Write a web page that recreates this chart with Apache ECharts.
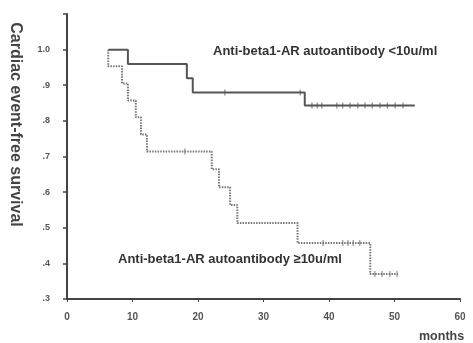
<!DOCTYPE html>
<html>
<head>
<meta charset="utf-8">
<script src="https://cdn.jsdelivr.net/npm/echarts@6/dist/echarts.min.js"></script>
<style>
  html, body { margin: 0; padding: 0; background: #fff; }
  #chart { width: 473px; height: 343px; }
</style>
</head>
<body>
<div id="chart"></div>
<script>
// Kaplan-Meier steps: [months, survival after event]
var lowGroup = [[6.3, 1.0], [9.3, 0.96], [18.3, 0.92], [19.2, 0.88], [36.3, 0.843], [53.1, 0.843]];
var lowCensor = [[24.1, 0.88], [35.6, 0.88], [37.4, 0.843], [38.2, 0.843], [38.9, 0.843], [41.2, 0.843], [42.1, 0.843],
  [43.2, 0.843], [44.4, 0.843], [45.5, 0.843], [46.6, 0.843], [47.8, 0.843], [48.9, 0.843], [50.1, 0.843], [51.3, 0.843]];

var highGroup = [[6.3, 1.0], [6.3, 0.953], [8.4, 0.905], [9.3, 0.857], [10.5, 0.81], [11.3, 0.762], [12.2, 0.714],
  [22.1, 0.664], [23.2, 0.614], [24.9, 0.564], [26.0, 0.513], [35.2, 0.457], [46.3, 0.37], [50.5, 0.37]];
var highCensor = [[18.0, 0.714], [39.1, 0.457], [42.1, 0.457], [42.9, 0.457], [43.7, 0.457], [44.7, 0.457],
  [47.0, 0.37], [48.1, 0.37], [49.3, 0.37], [50.4, 0.37]];

var xTicks = [0, 10, 20, 30, 40, 50, 60];
var yTicks = ['.3', '.4', '.5', '.6', '.7', '.8', '.9', '1.0', ''];

var myChart = echarts.init(document.getElementById('chart'));
var option = {
  animation: false,
  grid: { left: 67, right: 13, top: 14, bottom: 44, outerBoundsMode: 'none', containLabel: false },
  xAxis: {
    type: 'value', min: 0, max: 60, interval: 10,
    axisLine: { lineStyle: { color: '#444', width: 2 } },
    axisTick: { show: true, length: 3, lineStyle: { color: '#444' } },
    splitLine: { show: false },
    axisLabel: { color: '#555', fontSize: 10, fontWeight: 'bold', margin: 13, fontFamily: 'Liberation Sans',
      formatter: function (v) { return xTicks.indexOf(v) >= 0 ? String(v) : ''; } }
  },
  yAxis: {
    type: 'value', min: 0.3, max: 1.1, interval: 0.1,
    name: 'Cardiac event-free survival', nameLocation: 'middle', nameRotate: -90, nameGap: 44,
    nameTextStyle: { color: '#444', fontSize: 16, fontWeight: 'bold', fontFamily: 'Liberation Sans',
      padding: [0, 64, 0, 0] },
    axisLine: { show: true, lineStyle: { color: '#444', width: 2 } },
    axisTick: { show: true, length: 4, lineStyle: { color: '#444', width: 1.5 } },
    splitLine: { show: false },
    axisLabel: { color: '#555', fontSize: 9, fontWeight: 'bold', margin: 17, fontFamily: 'Liberation Sans',
      formatter: function (v) { return yTicks[Math.round((v - 0.3) * 10)]; } }
  },
  graphic: [
    { type: 'text', left: 419, top: 330,
      style: { text: 'months', fill: '#444', font: 'bold 12.5px Liberation Sans' } },
    { type: 'text', left: 213, top: 45,
      style: { text: 'Anti-beta1-AR autoantibody <10u/ml', fill: '#333', font: 'bold 13px Liberation Sans' } },
    { type: 'text', left: 118, top: 253,
      style: { text: 'Anti-beta1-AR autoantibody \u226510u/ml', fill: '#333', font: 'bold 13px Liberation Sans' } }
  ],
  series: [
    { type: 'line', step: 'end', data: lowGroup, symbol: 'none',
      lineStyle: { color: '#555', width: 2 } },
    { type: 'line', step: 'end', data: highGroup, symbol: 'none',
      lineStyle: { color: '#777', width: 2, type: [1.5, 1.2] } },
    { type: 'scatter', data: lowCensor, symbol: 'rect', symbolSize: [1.2, 6],
      itemStyle: { color: '#666' } },
    { type: 'scatter', data: highCensor, symbol: 'rect', symbolSize: [1.2, 6],
      itemStyle: { color: '#777' } }
  ]
};
myChart.setOption(option);
</script>
</body>
</html>
